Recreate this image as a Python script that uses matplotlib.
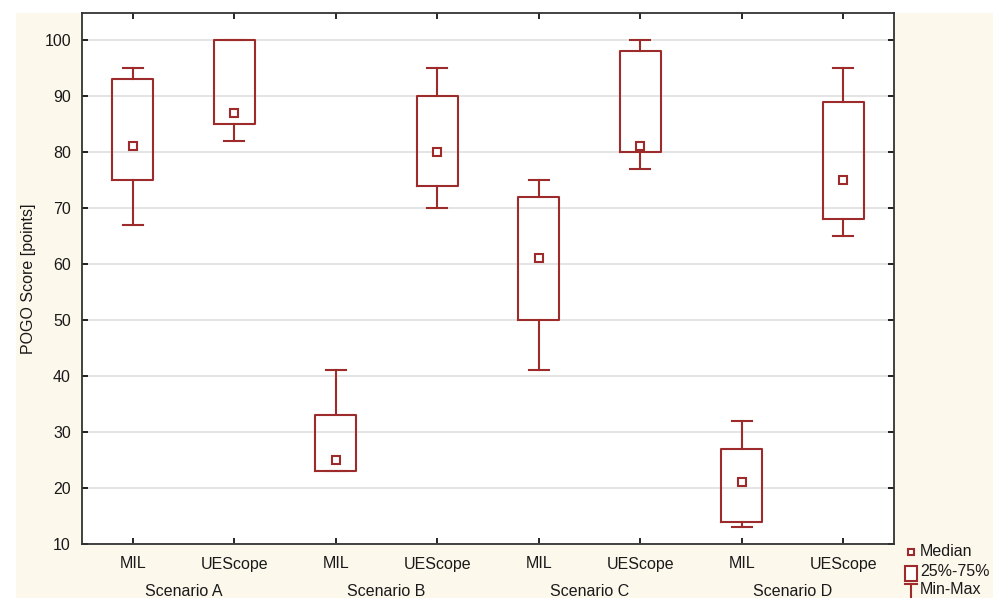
import matplotlib
matplotlib.use("Agg")
import matplotlib.pyplot as plt
from matplotlib.patches import Rectangle
from matplotlib.lines import Line2D

plt.rcParams['font.family'] = ['Liberation Sans', 'DejaVu Sans']

# values
scenarios = ['Scenario A', 'Scenario B', 'Scenario C', 'Scenario D']
tools = ['MIL', 'UEScope']
mins = [67, 82, 23, 70, 41, 77, 13, 65]
q1s = [75, 85, 23, 74, 50, 80, 14, 68]
medians = [81, 87, 25, 80, 61, 81, 21, 75]
q3s = [93, 100, 33, 90, 72, 98, 27, 89]
maxs = [95, 100, 41, 95, 75, 100, 32, 95]

red = '#9e2b2b'
cream = '#fdf8ec'
fs = 11.5

fig = plt.figure(figsize=(10.05, 5.98), dpi=100)
fig.patch.set_facecolor('white')
fig.patches.append(Rectangle((16 / 1005, 0), 977 / 1005, 585 / 598,
                             transform=fig.transFigure, facecolor=cream,
                             edgecolor='none', zorder=-10))

ax = fig.add_axes([82 / 1005, 54 / 598, 812 / 1005, 531 / 598])
ax.set_facecolor('white')

stats = []
for i in range(len(medians)):
    stats.append(dict(med=medians[i], q1=q1s[i], q3=q3s[i],
                      whislo=mins[i], whishi=maxs[i], fliers=[]))
pos = list(range(len(stats)))
ax.bxp(stats, positions=pos, widths=0.4, showfliers=False,
       boxprops=dict(color=red, linewidth=1.5),
       whiskerprops=dict(color=red, linewidth=1.5),
       capprops=dict(color=red, linewidth=1.5),
       medianprops=dict(visible=False), capwidths=0.2, zorder=3)
ax.plot(pos, medians, 's', ms=5.5, mfc='white', mec=red, mew=1.5,
        linestyle='none', zorder=4)

ax.set_xlim(-0.5, 7.5)
ax.set_ylim(10, 104.8)
ax.set_yticks(range(10, 101, 10))
ax.set_xticks(pos)
ax.set_xticklabels(tools * 4)
ax.yaxis.grid(True, color='#e2e2e2', linewidth=1.3, zorder=0)
ax.set_axisbelow(True)
ax.tick_params(direction='in', top=True, right=True, length=4, width=1.2,
               labelsize=fs, pad=8, labelcolor='#1a1a1a')
ax.tick_params(axis='x', pad=9)
for s in ax.spines.values():
    s.set_color('#333333')
    s.set_linewidth(1.3)
ax.set_ylabel('POGO Score [points]', fontsize=fs, labelpad=6,
              color='#1a1a1a')

# group labels under the tick labels
for k, name in enumerate(scenarios):
    ax.text(2 * k + 0.5, -0.09, name, transform=ax.get_xaxis_transform(),
            ha='center', va='center', fontsize=fs, color='#1a1a1a')

# legend in the lower right corner
def fx(px):
    return px / 1005

def fy(py):
    return 1 - py / 598

fig.add_artist(Line2D([fx(911)], [fy(552)], marker='s', ms=5, mfc='white',
                      mec=red, mew=1.5, transform=fig.transFigure))
fig.text(fx(920), fy(551), 'Median', fontsize=fs, va='center',
         color='#1a1a1a')
fig.patches.append(Rectangle((fx(905), fy(581)), 12 / 1005, 15 / 598,
                             transform=fig.transFigure, facecolor='white',
                             edgecolor=red, linewidth=1.5))
fig.text(fx(920), fy(572), '25%-75%', fontsize=fs, va='center',
         color='#1a1a1a')
fig.add_artist(Line2D([fx(905), fx(917)], [fy(584), fy(584)], color=red,
                      lw=1.5, transform=fig.transFigure))
fig.add_artist(Line2D([fx(911), fx(911)], [fy(584), fy(598)], color=red,
                      lw=1.5, transform=fig.transFigure))
fig.text(fx(920), fy(590), 'Min-Max', fontsize=fs, va='center',
         color='#1a1a1a')

fig.savefig('out.png', dpi=100, facecolor=fig.get_facecolor())
